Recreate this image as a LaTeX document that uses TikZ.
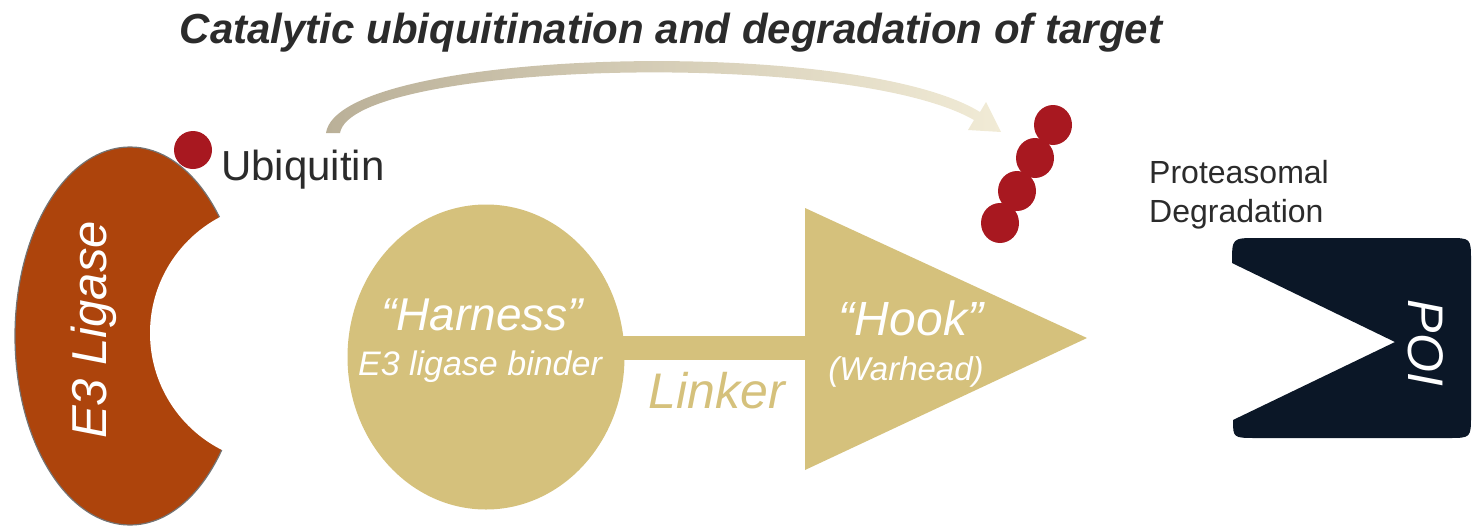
\documentclass[tikz,border=0pt]{standalone}
\usepackage{fontspec}
\setmainfont{Liberation Sans}
\usetikzlibrary{shapes.geometric}
\definecolor{e3col}{HTML}{AD440C}
\definecolor{tancol}{HTML}{D5C17C}
\definecolor{ubred}{HTML}{A81820}
\definecolor{poicol}{HTML}{0B1727}
\definecolor{txtcol}{HTML}{2B2B2B}
\definecolor{arrL}{HTML}{BAB098}
\definecolor{arrR}{HTML}{F1EBD6}
\tikzset{
  whiteit/.style={text=white, inner sep=0pt},
  ub/.style={fill=ubred, draw=none},
}
\begin{document}
\begin{tikzpicture}[x=1pt,y=-1pt]
\useasboundingbox (0,0) rectangle (1472,528);
% title
\node[text=txtcol, inner sep=0pt, anchor=base, font=\fontsize{42}{42}\selectfont\bfseries\itshape] (title) at (671,43) {Catalytic ubiquitination and degradation of target};
% curved arrow
\coordinate (arrS) at (333,133);
\coordinate (arrE) at (1001,132);
\shade[left color=arrL, right color=arrR]
  (326,133) .. controls (338,48) and (855,35) .. (980,112) -- (986,102) -- (1001,132) -- (968,130) -- (974,120)
  .. controls (848,48) and (352,62) .. (340,133) -- cycle;
% E3 ligase
\fill[e3col, draw=black!55, line width=1.2pt] (130,336) ellipse [x radius=115, y radius=189];
\fill[white] (281,333) circle [radius=131];
\node[whiteit, rotate=90, font=\fontsize{49}{49}\selectfont\itshape] (e3) at (94,330) {E3 Ligase};
% ubiquitin
\fill[ub] (193,150) circle [radius=19];
\node[text=txtcol, anchor=base west, inner sep=0pt, font=\fontsize{42}{42}\selectfont] (ubq) at (221,180) {Ubiquitin};
% harness
\node[ellipse, fill=tancol, minimum width=277pt, minimum height=305pt, inner sep=0pt] (harness) at (486,357) {};
\node[whiteit, anchor=base, font=\fontsize{46}{46}\selectfont\itshape] (harnessT) at (482,330) {“Harness”};
\node[whiteit, anchor=base, font=\fontsize{34}{34}\selectfont\itshape] (harnessS) at (480,375) {E3 ligase binder};
% linker
\coordinate (linkL) at (618,347.5);
\coordinate (linkR) at (806,347.5);
\draw[tancol, line width=24pt] (linkL) -- (linkR);
\node[text=tancol, anchor=base, inner sep=0pt, font=\fontsize{50}{50}\selectfont\itshape] (linker) at (717,408) {Linker};
% hook
\fill[tancol] (805,208) -- (1087,338) -- (805,470) -- cycle;
\node[whiteit, anchor=base, font=\fontsize{48}{48}\selectfont\itshape] (hookT) at (911,335) {“Hook”};
\node[whiteit, anchor=base, font=\fontsize{33}{33}\selectfont\itshape] (hookS) at (906,380) {(Warhead)};
% ubiquitin chain
\fill[ub] (1053,125) ellipse [x radius=19, y radius=20];
\fill[ub] (1035,158) ellipse [x radius=19, y radius=20];
\fill[ub] (1017,191) ellipse [x radius=19, y radius=20];
\fill[ub] (1000,223) ellipse [x radius=19, y radius=20];
% proteasomal degradation
\node[text=txtcol, anchor=base west, inner sep=0pt, font=\fontsize{32}{32}\selectfont] (prot1) at (1149,183) {Proteasomal};
\node[text=txtcol, anchor=base west, inner sep=0pt, font=\fontsize{32}{32}\selectfont] (prot2) at (1149,222) {Degradation};
% POI
\fill[poicol] (1395,342) -- (1232,263) .. controls (1232,238) .. (1257,238) -- (1448,238) .. controls (1471,238) .. (1471,261) -- (1471,415) .. controls (1471,438) .. (1448,438) -- (1257,438) .. controls (1233,438) .. (1233,420) -- cycle;
\node[whiteit, rotate=-90, font=\fontsize{50}{50}\selectfont\itshape] (poi) at (1426,343) {POI};
\end{tikzpicture}
\end{document}
